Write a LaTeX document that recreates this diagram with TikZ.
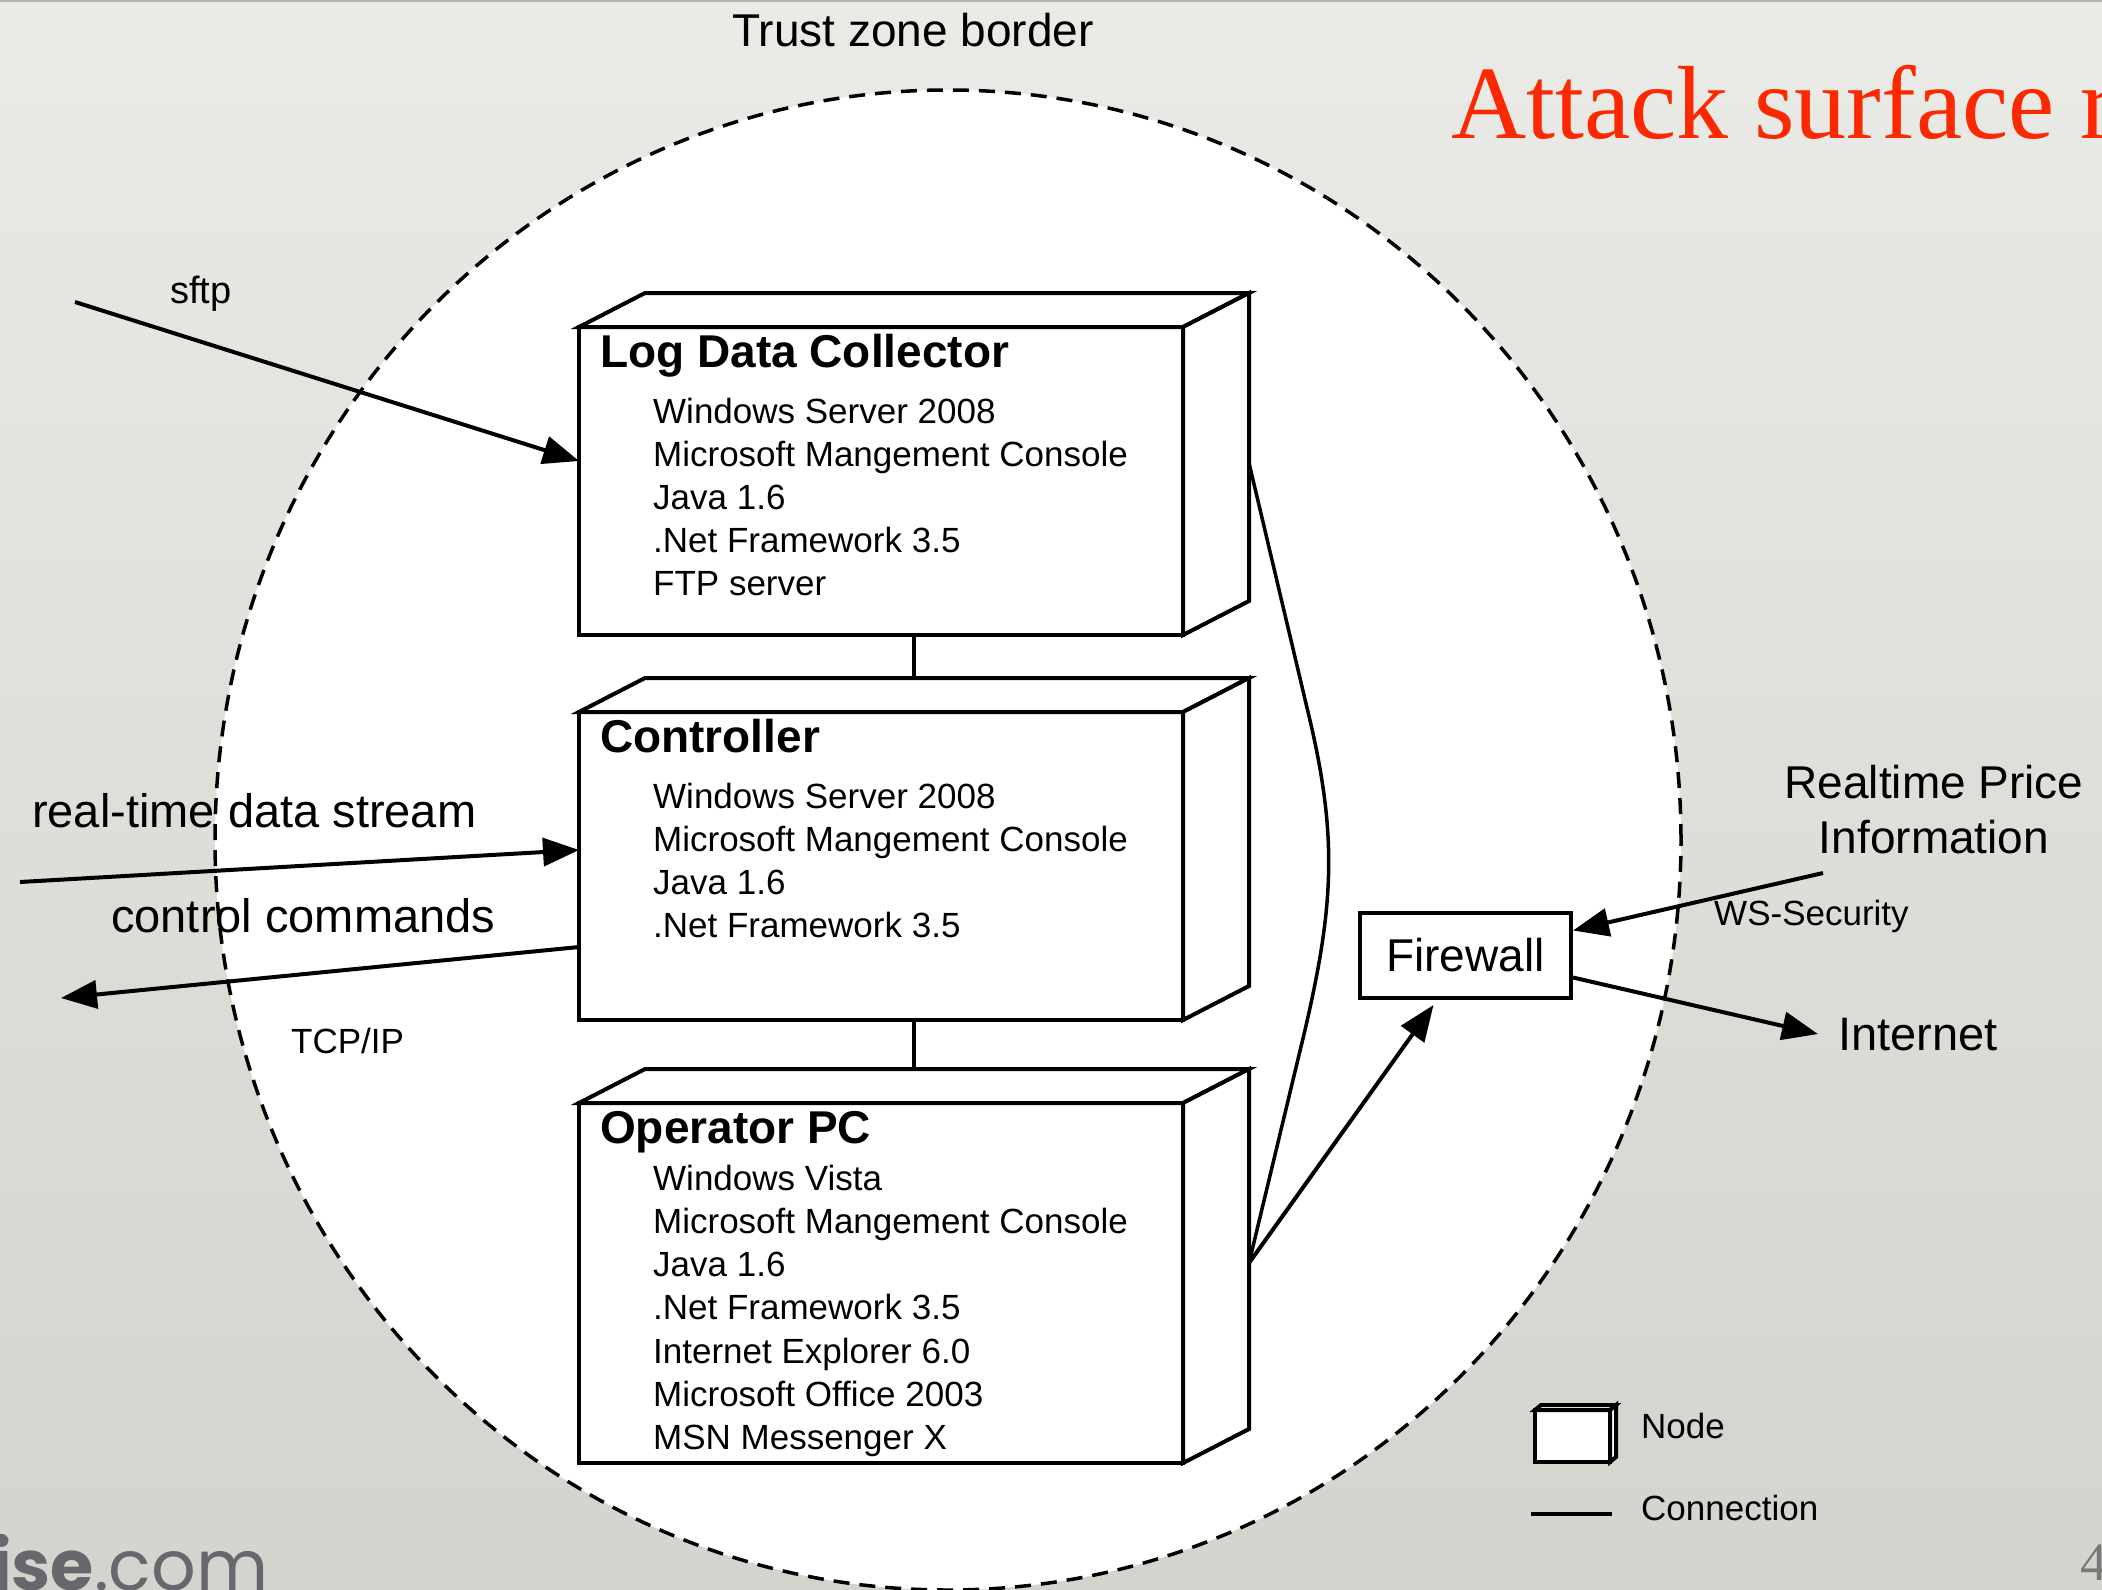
\documentclass[tikz,border=0pt]{standalone}
\usepackage{fontspec}
\setmainfont{Liberation Sans}
\newfontfamily\ttlserif{Liberation Serif}
\newfontfamily\logofont{Poppins}
\usetikzlibrary{arrows.meta}
\newcommand\setfs[1]{\fontsize{#1}{#1}\selectfont}
\definecolor{bgtop}{RGB}{234,234,230}
\definecolor{bgbot}{RGB}{212,212,206}
\definecolor{ttlred}{RGB}{252,40,0}
\definecolor{logogrey}{RGB}{105,103,110}
\definecolor{pggrey}{RGB}{120,120,120}
\begin{document}
\begin{tikzpicture}[x=1pt,y=-1pt,
  face/.style={draw, fill=white, line width=4pt, line join=miter},
  front/.style={face, inner sep=0pt, outer sep=0pt, anchor=north west, minimum width=604pt},
  ttl/.style={anchor=base west, inner sep=0pt, font=\setfs{46}\bfseries},
  item/.style={anchor=base west, inner sep=0pt, font=\setfs{35}},
  lbl/.style={anchor=base west, inner sep=0pt, font=\setfs{47}},
  small/.style={anchor=base west, inner sep=0pt, font=\setfs{35}},
  conn/.style={line width=3.5pt},
  arr/.style={line width=4pt, -{Triangle[length=36pt,width=28pt]}},
]
\useasboundingbox (0,0) rectangle (2102,1590);
\clip (0,0) rectangle (2102,1590);
\shade[top color=bgtop, bottom color=bgbot] (0,0) rectangle (2102,1590);
\draw[gray!60, line width=2pt] (0,1) -- (2102,1);

% trust zone
\draw[fill=white, line width=3.5pt, dash pattern=on 16pt off 10pt] (948,840) ellipse [x radius=733pt, y radius=750pt];
\node[lbl, anchor=base, font=\setfs{46}] (tz) at (913,46) {Trust zone border};

% slide texts
\node[anchor=base west, inner sep=0pt, text=ttlred, font=\ttlserif\setfs{104}] (title) at (1451,138) {Attack surface reduction};
\node[anchor=base west, inner sep=0pt, text=logogrey, font=\logofont\setfs{70}] (logo) at (-9,1590) {\textbf{ise}.com};
\node[anchor=base west, inner sep=0pt, text=pggrey, font=\ttlserif\setfs{54}] (pg) at (2080,1580) {4};

% Log Data Collector
\node[front, minimum height=308pt] (ldc) at (579,327) {};
\draw[face] (ldc.north west) -- ([shift={(66,-34)}]ldc.north west) -- ([shift={(66,-34)}]ldc.north east) -- (ldc.north east) -- cycle;
\draw[face] (ldc.north east) -- ([shift={(66,-34)}]ldc.north east) -- ([shift={(66,-34)}]ldc.south east) -- (ldc.south east) -- cycle;
\node[ttl] (ldct) at (600,367) {Log Data Collector};
\foreach \t [count=\i from 0] in {Windows Server 2008, Microsoft Mangement Console, Java 1.6, .Net Framework 3.5, FTP server}
  \node[item] (ldci\i) at (653,423+43*\i) {\t};

% Controller
\node[front, minimum height=308pt] (ctl) at (579,712) {};
\draw[face] (ctl.north west) -- ([shift={(66,-34)}]ctl.north west) -- ([shift={(66,-34)}]ctl.north east) -- (ctl.north east) -- cycle;
\draw[face] (ctl.north east) -- ([shift={(66,-34)}]ctl.north east) -- ([shift={(66,-34)}]ctl.south east) -- (ctl.south east) -- cycle;
\node[ttl] (ctlt) at (600,752) {Controller};
\foreach \t [count=\i from 0] in {Windows Server 2008, Microsoft Mangement Console, Java 1.6, .Net Framework 3.5}
  \node[item] (ctli\i) at (653,808+43*\i) {\t};

% Operator PC
\node[front, minimum height=360pt] (opc) at (579,1103) {};
\draw[face] (opc.north west) -- ([shift={(66,-34)}]opc.north west) -- ([shift={(66,-34)}]opc.north east) -- (opc.north east) -- cycle;
\draw[face] (opc.north east) -- ([shift={(66,-34)}]opc.north east) -- ([shift={(66,-34)}]opc.south east) -- (opc.south east) -- cycle;
\node[ttl] (opct) at (600,1143) {Operator PC};
\foreach \t [count=\i from 0] in {Windows Vista, Microsoft Mangement Console, Java 1.6, .Net Framework 3.5, Internet Explorer 6.0, Microsoft Office 2003, MSN Messenger X}
  \node[item] (opci\i) at (653,1190+43.3*\i) {\t};

% connections between nodes
\draw[conn] ([xshift=33pt]ldc.south) -- ([shift={(33,-34)}]ctl.north);
\draw[conn] ([xshift=33pt]ctl.south) -- ([shift={(33,-34)}]opc.north);

\coordinate (ldcside) at ([shift={(66,-18)}]ldc.east);
\coordinate (opcside) at ([shift={(66,-20)}]opc.east);
\draw[conn] (ldcside) -- (1308,712) .. controls (1338,836) and (1334,905) .. (1305,1030) -- (opcside);

% firewall
\node[face, minimum width=211pt, minimum height=85pt, inner sep=0pt, font=\setfs{46}] (fw) at (1465.5,955.5) {Firewall};
\draw[arr] (opcside) -- ([shift={(-32,5)}]fw.south);

\node[lbl, anchor=base, font=\setfs{46}] (rpi1) at (1934,798) {Realtime Price};
\node[lbl, anchor=base, font=\setfs{46}] (rpi2) at (1934,853) {Information};
\node[small] (wss) at (1714,925) {WS-Security};
\node[lbl] (inet) at (1838,1050) {Internet};
\draw[arr] ([shift={(-111,20)}]rpi2.base) -- ([yshift=25pt]fw.east);
\draw[arr] ([yshift=-22pt]fw.east) -- ([xshift=-20pt]inet.west);

% external flows on the left
\coordinate (sftpin) at (75,302);
\coordinate (rtin) at (20,882);
\coordinate (ccout) at (61,998);
\node[anchor=base west, inner sep=0pt, font=\setfs{38}] (sftp) at (170,303) {sftp};
\node[lbl] (rtl) at (32,827) {real-time data stream};
\node[lbl] (ccl) at (111,932) {control commands};
\node[small] (tcp) at (291,1053) {TCP/IP};
\draw[arr] (sftpin) -- ([yshift=20pt]ldc.west);
\draw[arr] (rtin) -- ([yshift=16pt]ctl.west);
\draw[arr] ([yshift=-81pt]ctl.west) -- (ccout);

% legend
\node[face, inner sep=0pt, outer sep=0pt, minimum width=75pt, minimum height=52pt, anchor=north west] (lgn) at (1535,1410) {};
\draw[face] (lgn.north west) -- ([shift={(6,-5)}]lgn.north west) -- ([shift={(6,-5)}]lgn.north east) -- (lgn.north east) -- cycle;
\draw[face] (lgn.north east) -- ([shift={(6,-5)}]lgn.north east) -- ([shift={(6,-5)}]lgn.south east) -- (lgn.south east) -- cycle;
\node[small] (lgnt) at (1641,1438) {Node};
\coordinate (lc1) at (1531,1514);
\coordinate (lc2) at (1612,1514);
\draw[conn] (lc1) -- (lc2);
\node[small] (lgct) at (1641,1520) {Connection};
\end{tikzpicture}
\end{document}
